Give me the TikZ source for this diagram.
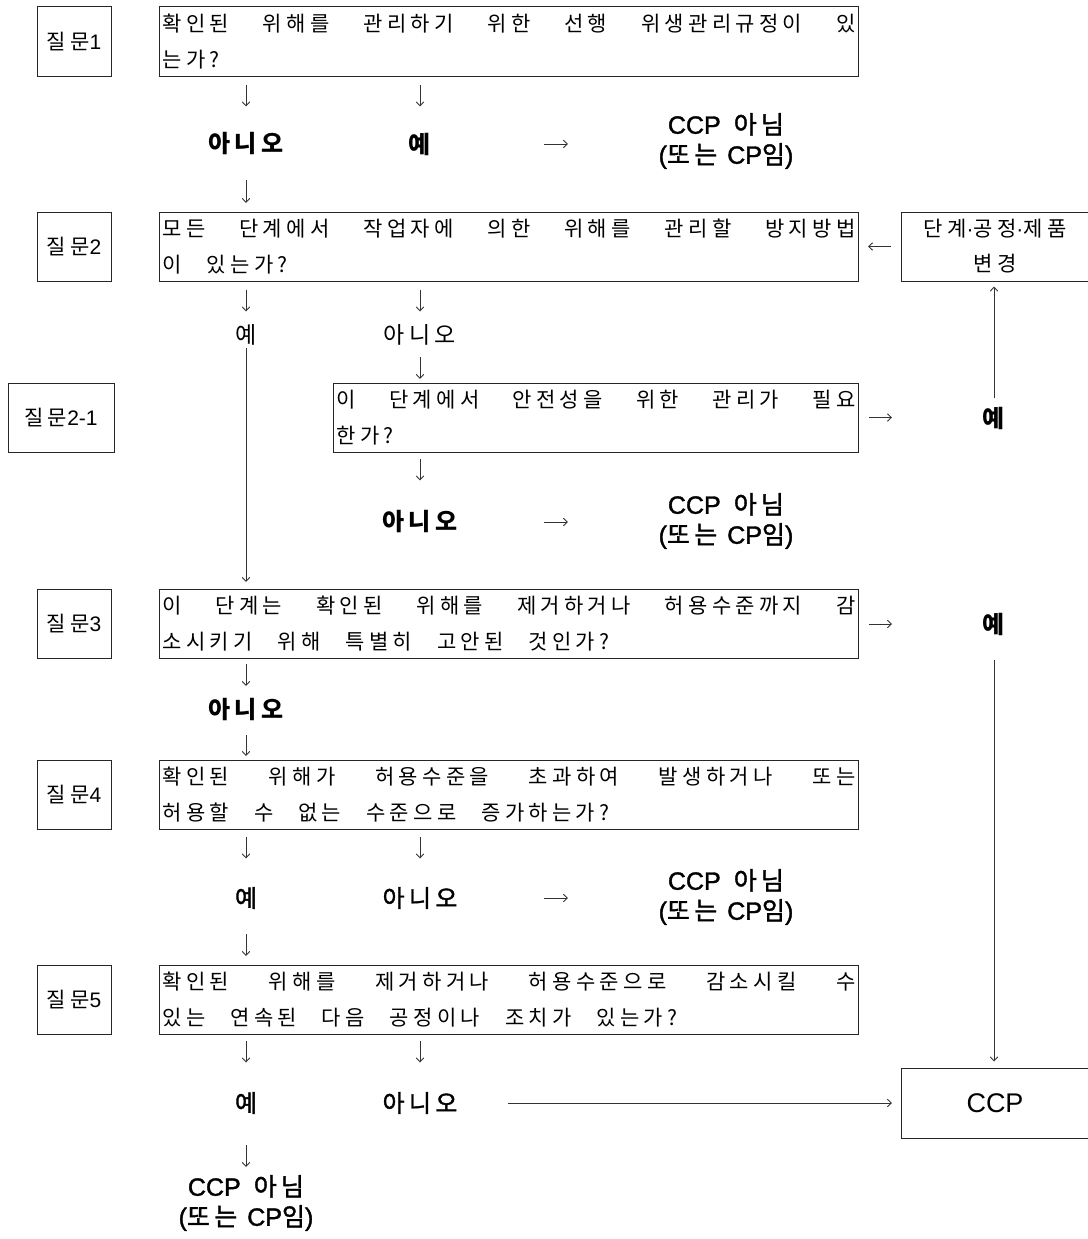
\documentclass[tikz,border=0pt]{standalone}
\usepackage{fontspec}
\setmainfont{Noto Sans CJK KR}
\newfontfamily\mdf{Noto Sans CJK KR}[FakeBold=1.5]
\newfontfamily\lat{Liberation Sans}
\newfontfamily\latm{Liberation Sans}[FakeBold=1.5]
\usetikzlibrary{arrows.meta}
% a little tracking between Hangul syllables
\newXeTeXintercharclass\hgcls
\newcount\hgc
\hgc="AC00
\loop\ifnum\hgc<"D7A4 \XeTeXcharclass\hgc=\hgcls \advance\hgc by 1 \repeat
\XeTeXinterchartoks\hgcls\hgcls={\kern4.3pt\relax}
\XeTeXinterchartoks\hgcls 0 ={\kern4.3pt\relax}
\newcommand{\twolines}[2]{\spaceskip=25pt plus 60pt minus 10pt\relax\makebox[\hsize][s]{#1}\\#2}
\newcommand{\ncptext}{\spaceskip=13pt\relax{\latm CCP} 아님\\{\latm (}또는\hspace{10pt}{\latm CP}임{\latm )}}
\begin{document}
\XeTeXinterchartokenstate=1
\begin{tikzpicture}[x=1pt,y=-1pt,
 qbox/.style={draw=black!85, line width=1pt, inner xsep=3pt, inner ysep=0pt, minimum height=69pt, text width=#1, align=left, anchor=west, font={\fontsize{21}{36}\selectfont}},
 tagbox/.style={draw=black!85, line width=1pt, minimum height=69pt, minimum width=74pt, inner sep=0pt, font={\fontsize{21}{26}\selectfont}},
 sidebox/.style={draw=black!85, line width=1pt, minimum height=69pt, minimum width=187pt, inner sep=0pt, align=center, anchor=west, font={\fontsize{21}{35}\selectfont}},
 lblb/.style={inner sep=0pt, font={\bfseries\fontsize{24}{29}\selectfont}},
 lblm/.style={inner sep=0pt, font={\mdf\fontsize{24}{29}\selectfont}},
 lblr/.style={inner sep=0pt, font={\fontsize{23}{29}\selectfont}},
 ncp/.style={inner sep=0pt, align=center, font={\mdf\fontsize{25}{30}\selectfont}},
 arr/.style={draw=black!80, line width=0.9pt, -{Straight Barb[length=4pt,width=7.5pt]}}
]
\XeTeXinterchartokenstate=1
\fill[white] (0,0) rectangle (1087,1239);
\useasboundingbox (0,0) rectangle (1087,1239);

% row 1
\node[tagbox] (t1) at (74,41.5) {질문{\lat 1}};
\node[qbox=693pt] (q1) at (159,41.5) {\twolines{확인된 위해를 관리하기 위한 선행 위생관리규정이 있}{는가?}};
\node[lblb] (no1) at (246,144) {아니오};
\node[lblb] (yes1) at (420,144) {예};
\node[ncp] (ncp1) at (726,141) {\ncptext};

% row 2
\node[tagbox] (t2) at (74,246.5) {질문{\lat 2}};
\node[qbox=693pt] (q2) at (159,246.5) {\twolines{모든 단계에서 작업자에 의한 위해를 관리할 방지방법}{이 있는가?}};
\node[sidebox] (chg) at (901,246.5) {단계{\lat ·}공정{\lat ·}제품\\변경};
\node[lblr] (yes2) at (246,335) {예};
\node[lblr] (no2) at (420,335) {아니오};

% row 2-1
\node[tagbox, minimum width=106pt] (t21) at (61,417.5) {질문{\lat 2-1}};
\node[qbox=519pt] (q21) at (333,417.5) {\twolines{이 단계에서 안전성을 위한 관리가 필요}{한가?}};
\node[lblb] (yes21) at (994,418) {예};
\node[lblb] (no21) at (420,522) {아니오};
\node[ncp] (ncp2) at (726,521) {\ncptext};

% row 3
\node[tagbox] (t3) at (74,624) {질문{\lat 3}};
\node[qbox=693pt] (q3) at (159,624) {\twolines{이 단계는 확인된 위해를 제거하거나 허용수준까지 감}{소시키기 위해 특별히 고안된 것인가?}};
\node[lblb] (yes3) at (994,624) {예};
\node[lblb] (no3) at (246,710) {아니오};

% row 4
\node[tagbox] (t4) at (74,794.5) {질문{\lat 4}};
\node[qbox=693pt] (q4) at (159,794.5) {\twolines{확인된 위해가 허용수준을 초과하여 발생하거나 또는}{허용할 수 없는 수준으로 증가하는가?}};
\node[lblm] (yes4) at (246,898) {예};
\node[lblm] (no4) at (420,898) {아니오};
\node[ncp] (ncp3) at (726,897) {\ncptext};

% row 5
\node[tagbox] (t5) at (74,999.5) {질문{\lat 5}};
\node[qbox=693pt] (q5) at (159,999.5) {\twolines{확인된 위해를 제거하거나 허용수준으로 감소시킬 수}{있는 연속된 다음 공정이나 조치가 있는가?}};
\node[lblm] (yes5) at (246,1103) {예};
\node[lblm] (no5) at (420,1103) {아니오};
\node[sidebox, minimum height=70pt, font={\lat\fontsize{27}{30}\selectfont}] (ccp) at (901,1103) {CCP};
\node[ncp] (ncp4) at (246,1203) {\ncptext};

% connectors
\draw[arr] (q1.south -| no1) ++(0,8) -- ++(0,22);
\draw[arr] (q1.south -| yes1) ++(0,8) -- ++(0,22);
\draw[arr] (yes1) ++(124,0) -- ++(24,0);
\draw[arr] (no1) ++(0,36) -- ++(0,23);

\draw[arr] (q2.south -| yes2) ++(0,8) -- ++(0,22);
\draw[arr] (q2.south -| no2) ++(0,8) -- ++(0,22);
\draw[arr] (chg.west) ++(-10,0) -- ++(-23,0);
\draw[arr] (no2) ++(0,22) -- ++(0,22);
\draw[arr, shorten >=7pt] (yes2) ++(0,13) -- (q3.north -| yes2);
\draw[arr, shorten >=5pt] (yes21) ++(0,-20) -- (chg.south -| yes21);

\draw[arr] (q21.east) ++(10,0) -- ++(23,0);
\draw[arr] (q21.south -| no21) ++(0,6) -- ++(0,22);
\draw[arr] (no21) ++(124,0) -- ++(24,0);

\draw[arr] (q3.east) ++(10,0) -- ++(23,0);
\draw[arr, shorten >=6pt] (yes3) ++(0,36) -- (ccp.north -| yes3);
\draw[arr] (q3.south -| no3) ++(0,5) -- ++(0,22);
\draw[arr] (no3) ++(0,25) -- ++(0,21);

\draw[arr] (q4.south -| yes4) ++(0,7) -- ++(0,22);
\draw[arr] (q4.south -| no4) ++(0,7) -- ++(0,22);
\draw[arr] (no4) ++(124,0) -- ++(24,0);
\draw[arr] (yes4) ++(0,36) -- ++(0,22);

\draw[arr] (q5.south -| yes5) ++(0,6) -- ++(0,22);
\draw[arr] (q5.south -| no5) ++(0,6) -- ++(0,22);
\draw[arr, shorten >=9pt] (no5) ++(88,0) -- (ccp.west);
\draw[arr] (yes5) ++(0,42) -- ++(0,22);
\end{tikzpicture}
\end{document}
